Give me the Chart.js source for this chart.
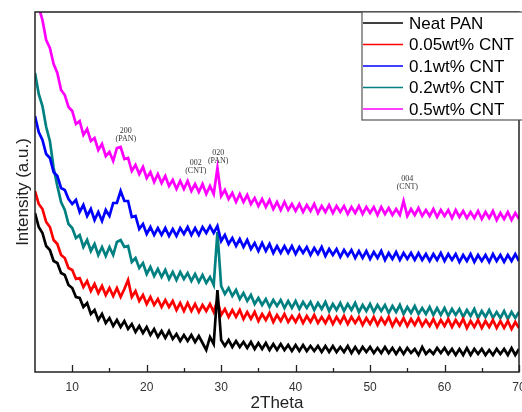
<!DOCTYPE html>
<html>
<head>
<meta charset="utf-8">
<script src="https://cdn.jsdelivr.net/npm/chart.js@4/dist/chart.umd.min.js"></script>
<style>
    html, body { margin: 0; padding: 0; background: #fff; }
    #xrd { display: block; }
</style>
</head>
<body>
<canvas id="xrd" width="522" height="412"></canvas>
<script>
// scan grid: 2theta from 5 to 70 deg, one reading every 0.5 deg
const SCAN_START = 5;
const SCAN_STEP = 0.5;
const SCAN_POINTS = 131;
const twoTheta = [];
for (let i = 0; i < SCAN_POINTS; i++) twoTheta.push(SCAN_START + i * SCAN_STEP);

// intensities (a.u., offset stacked)
const neatPan = [
    159,145,139,126,122,111,109,99,97,87,
    84,75,74,65,69,58,62,52,58,49,
    54,46,52,45,51,43,48,40,46,39,
    45,37,43,35,41,34,41,33,38,31,
    37,31,37,30,36,29,22,35,28,82,
    32,26,32,25,31,25,30,24,30,23,
    29,23,29,22,28,22,28,22,27,21,
    27,21,27,21,26,21,26,20,26,20,
    26,20,25,20,26,19,25,19,25,20,
    25,19,24,19,25,19,24,18,24,18,
    24,19,23,17,25,18,22,18,24,19,
    24,18,23,17,23,17,24,17,23,18,
    23,17,22,17,23,18,23,17,24,17,
    23
];
const cnt005 = [
    181,168,163,150,145,132,128,117,114,104,
    102,93,94,85,91,81,88,79,86,77,
    84,76,84,75,83,92,75,81,71,77,
    68,75,67,73,65,72,65,71,62,69,
    61,69,61,68,60,67,61,68,60,72,
    57,63,55,62,55,62,53,60,53,60,
    51,58,52,59,50,57,51,58,50,56,
    50,57,49,56,50,57,49,55,49,56,
    48,55,49,56,48,55,49,55,47,54,
    48,55,47,54,48,55,46,53,47,54,
    46,53,47,54,46,52,46,53,45,52,
    46,53,45,52,46,53,44,51,45,52,
    44,51,45,52,44,51,44,51,43,50,
    44
];
const cnt01 = [
    256,240,232,218,214,200,196,184,182,173,
    168,172,160,167,156,163,152,160,151,162,
    156,169,169,181,171,171,155,156,143,148,
    138,145,137,144,137,144,136,143,136,144,
    138,145,137,144,137,145,139,146,139,146,
    131,137,128,134,126,133,125,132,123,129,
    121,129,121,128,119,126,119,126,119,126,
    118,125,119,125,117,124,118,125,116,123,
    117,123,115,122,116,122,114,121,114,121,
    113,120,114,121,112,119,113,120,112,119,
    113,119,112,119,112,118,111,118,112,119,
    111,118,112,118,110,117,111,118,110,117,
    111,117,110,118,111,117,110,117,111,118,
    111
];
const cnt02 = [
    299,278,266,245,231,204,186,170,162,148,
    144,134,137,125,132,121,128,117,125,116,
    125,117,130,132,125,126,110,114,104,109,
    98,105,96,103,95,102,93,100,92,100,
    93,99,91,98,90,97,89,95,87,140,
    86,78,84,76,82,73,79,71,77,68,
    74,67,73,65,72,66,72,64,71,64,
    71,63,70,64,70,62,69,63,70,61,
    68,62,69,61,68,62,69,60,67,61,
    68,60,67,61,67,59,66,60,67,58,
    65,59,66,58,64,58,65,57,64,57,
    64,56,63,57,63,55,62,56,63,54,
    61,55,62,54,60,54,61,53,60,54,
    60
];
const cnt05 = [
    379,365,352,332,324,308,299,282,277,265,
    261,248,251,237,243,231,234,222,228,216,
    220,211,224,225,213,214,201,207,198,205,
    194,200,190,198,189,196,186,192,183,191,
    183,191,181,188,180,188,178,186,178,204,
    176,182,173,179,170,178,170,177,168,174,
    166,173,165,172,163,170,162,170,162,168,
    161,168,160,167,161,168,159,166,160,167,
    159,166,160,166,158,165,159,166,158,165,
    159,165,157,165,158,164,157,163,157,171,
    156,163,157,164,156,162,156,163,155,162,
    156,162,154,162,155,161,154,160,154,161,
    153,160,154,161,152,159,153,160,152,159,
    153
];

const seriesNames = ['Neat PAN', '0.05wt% CNT', '0.1wt% CNT', '0.2wt% CNT', '0.5wt% CNT'];
const seriesColors = ['#000000', '#ff0000', '#0000ff', '#008080', '#ff00ff'];

const xMajorTicks = [10, 20, 30, 40, 50, 60, 70];
const xMinorTicks = [15, 25, 35, 45, 55, 65];

// peak labels: reflection, phase, 2theta, height of the label
const peakHkl = ['200', '002', '020', '004'];
const peakPhase = ['(PAN)', '(CNT)', '(PAN)', '(CNT)'];
const peakAngle = [17.2, 26.6, 29.6, 55.0];
const peakLevel = [241, 209, 219, 193];

const allSeries = [neatPan, cnt005, cnt01, cnt02, cnt05];

const decorations = {
    id: 'decorations',
    afterDatasetsDraw(chart) {
        const { ctx, chartArea: a, scales: { x, y } } = chart;
        ctx.save();

        // peak notes
        ctx.fillStyle = '#333';
        ctx.font = '8px "Liberation Serif", serif';
        ctx.textAlign = 'center';
        ctx.textBaseline = 'middle';
        peakHkl.forEach((hkl, i) => {
            const px = x.getPixelForValue(peakAngle[i]);
            const py = y.getPixelForValue(peakLevel[i]);
            ctx.fillText(hkl, px, py);
            ctx.fillText(peakPhase[i], px, py + 8);
        });

        // plot frame
        ctx.strokeStyle = '#222';
        ctx.lineWidth = 1.5;
        ctx.strokeRect(a.left, a.top, a.right - a.left, a.bottom - a.top);

        // inward ticks on the 2theta axis
        ctx.lineWidth = 1.3;
        ctx.beginPath();
        xMajorTicks.forEach(v => {
            const px = Math.round(x.getPixelForValue(v)) + 0.5;
            ctx.moveTo(px, a.bottom);
            ctx.lineTo(px, a.bottom - 7);
        });
        xMinorTicks.forEach(v => {
            const px = Math.round(x.getPixelForValue(v)) + 0.5;
            ctx.moveTo(px, a.bottom);
            ctx.lineTo(px, a.bottom - 4);
        });
        ctx.stroke();

        // legend box
        const lx = 362, ly = a.top;
        ctx.fillStyle = '#fff';
        ctx.fillRect(lx, ly, 200, 108);
        ctx.strokeStyle = '#555';
        ctx.lineWidth = 1.2;
        ctx.strokeRect(lx, ly, 200, 108);
        ctx.font = '17px "Liberation Sans", Arial, sans-serif';
        ctx.textAlign = 'left';
        ctx.textBaseline = 'middle';
        chart.data.datasets.forEach((ds, i) => {
            const ry = ly + 11 + i * 21.5;
            ctx.strokeStyle = ds.borderColor;
            ctx.lineWidth = 1.5;
            ctx.beginPath();
            ctx.moveTo(lx + 1, ry);
            ctx.lineTo(lx + 41, ry);
            ctx.stroke();
            ctx.fillStyle = '#000';
            ctx.fillText(ds.label, lx + 47, ry + 1);
        });

        ctx.restore();
    }
};

new Chart(document.getElementById('xrd'), {
    type: 'line',
    data: {
        labels: twoTheta,
        datasets: allSeries.map((vals, i) => ({
            label: seriesNames[i],
            data: vals,
            borderColor: seriesColors[i],
            backgroundColor: seriesColors[i],
            borderWidth: 2.7,
            borderJoinStyle: 'miter',
            pointRadius: 0,
            tension: 0,
            fill: false
        }))
    },
    options: {
        responsive: false,
        animation: false,
        devicePixelRatio: 1,
        layout: { padding: { top: 12, right: 3, left: 0, bottom: 0 } },
        plugins: { legend: { display: false }, tooltip: { enabled: false } },
        scales: {
            x: {
                type: 'linear',
                min: 5,
                max: 70,
                grid: { display: false, drawTicks: false },
                border: { display: false },
                afterBuildTicks: s => { s.ticks = xMajorTicks.map(v => ({ value: v })); },
                afterFit: s => { s.height = 40; s.paddingLeft = 0; s.paddingRight = 0; },
                ticks: {
                    padding: 8,
                    color: '#333',
                    maxRotation: 0,
                    autoSkip: false,
                    font: { family: '"Liberation Sans", Arial, sans-serif', size: 12 }
                },
                title: {
                    display: true,
                    text: '2Theta',
                    color: '#222',
                    padding: { top: 0, bottom: -2 },
                    font: { family: '"Liberation Sans", Arial, sans-serif', size: 17 }
                }
            },
            y: {
                min: 0,
                max: 360,
                grid: { display: false, drawTicks: false },
                border: { display: false },
                ticks: { display: false },
                afterFit: s => { s.width = 35; },
                title: {
                    display: true,
                    text: 'Intensity (a.u.)',
                    color: '#222',
                    padding: { top: 13, bottom: 0 },
                    font: { family: '"Liberation Sans", Arial, sans-serif', size: 17 }
                }
            }
        }
    },
    plugins: [decorations]
});
</script>
</body>
</html>
